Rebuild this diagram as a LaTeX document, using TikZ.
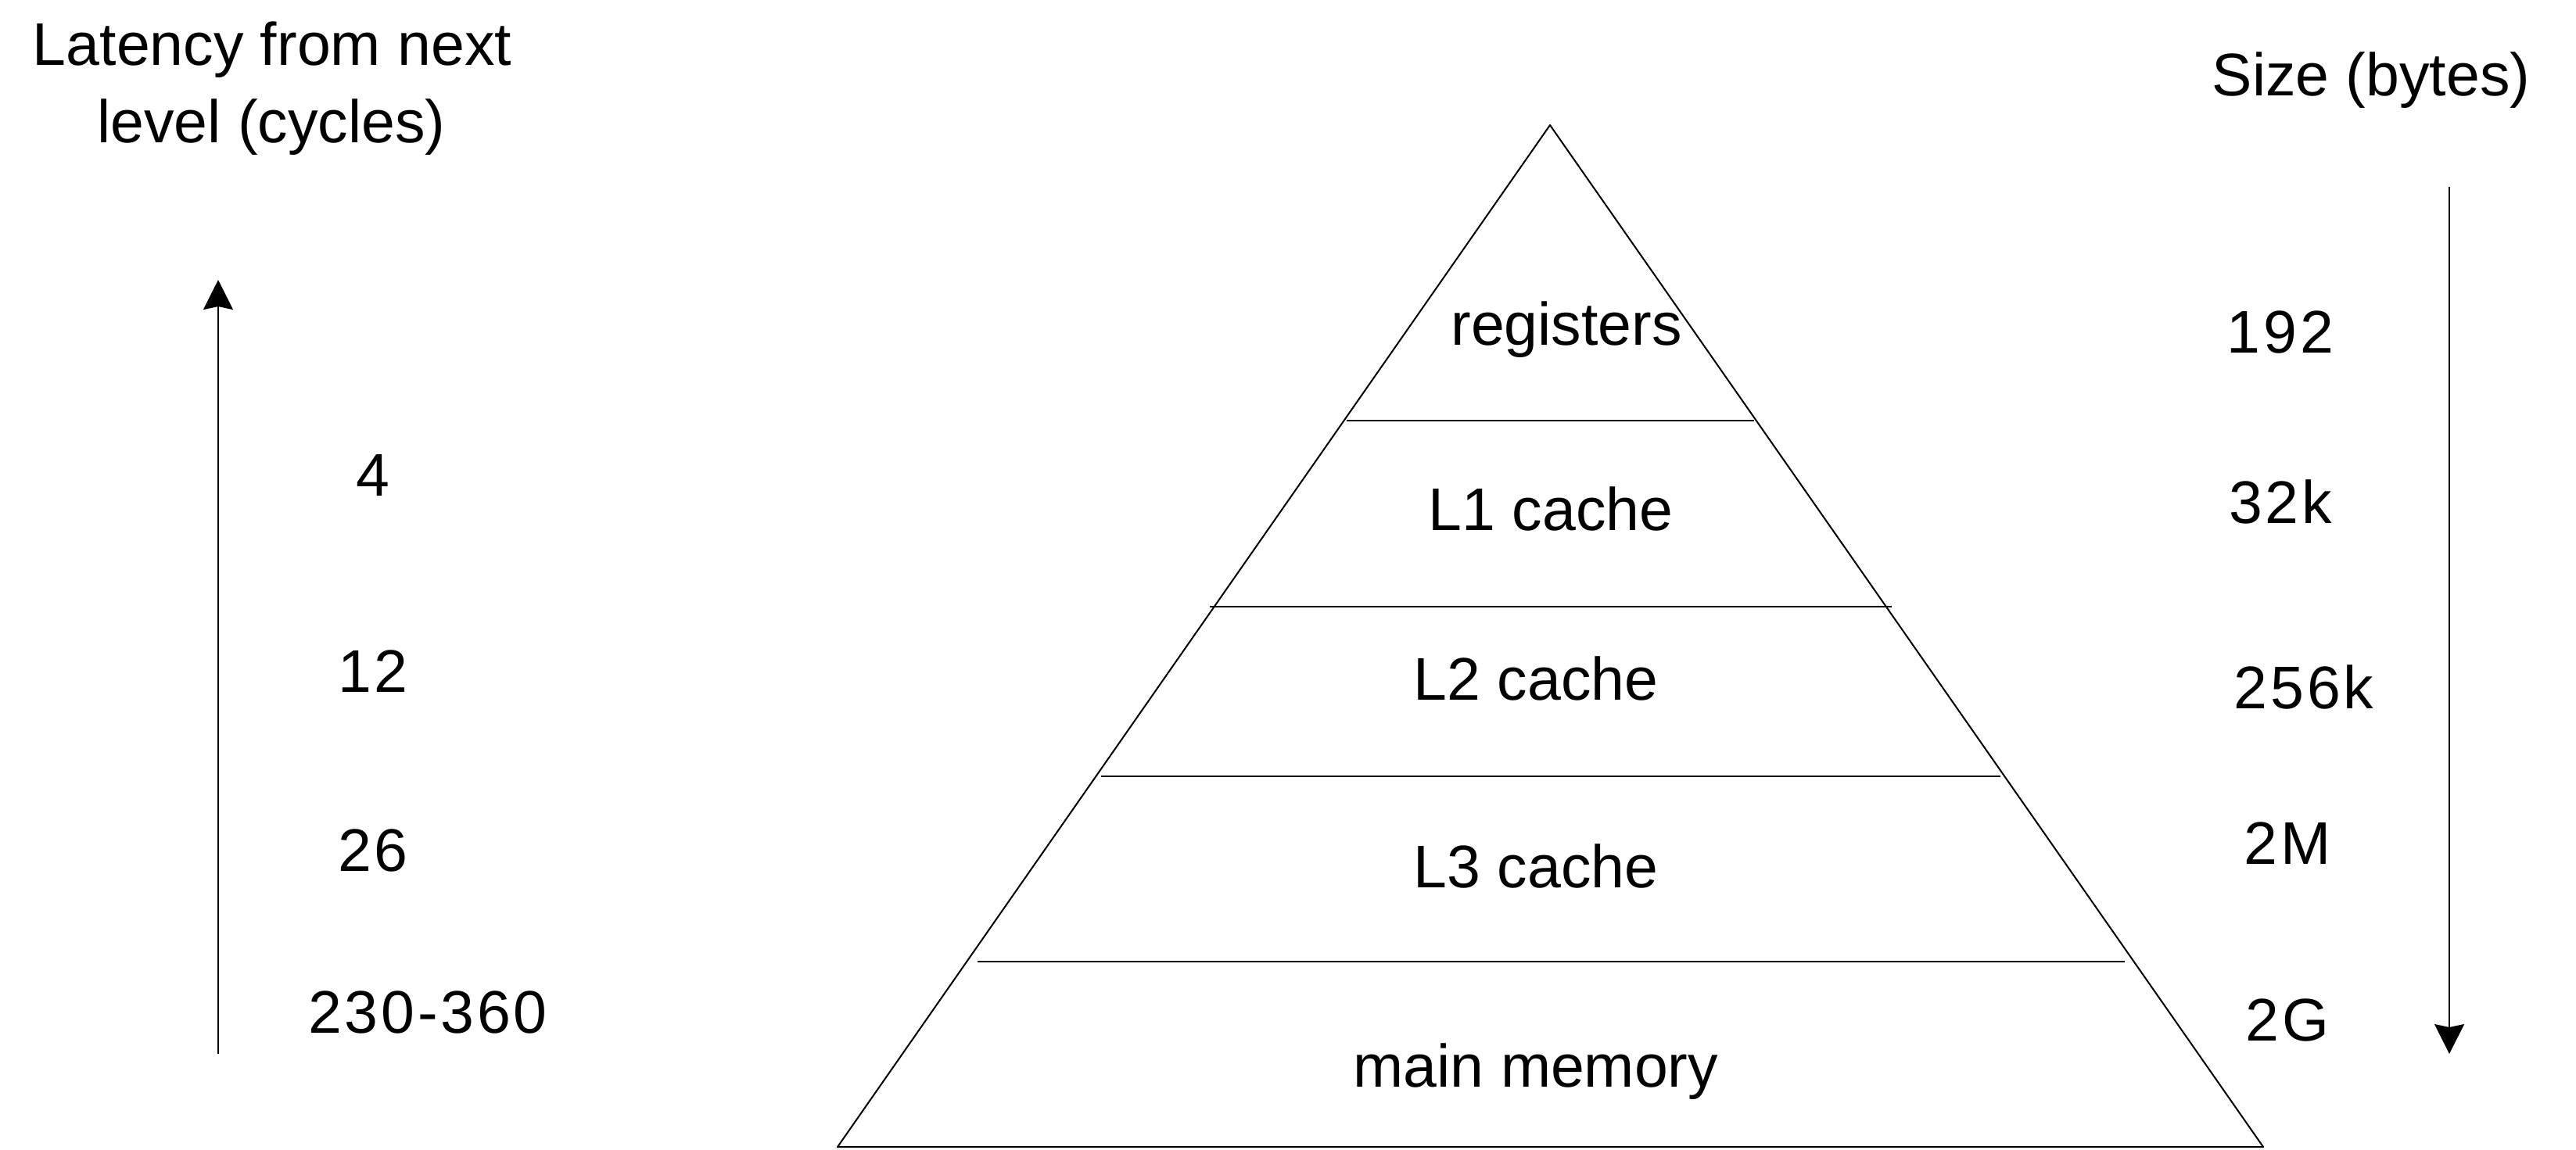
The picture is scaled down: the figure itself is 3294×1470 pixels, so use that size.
\documentclass[tikz,border=0pt]{standalone}
\usepackage{fontspec}
\setmainfont{Liberation Sans}
\newfontfamily\numfont[LetterSpace=5]{Liberation Sans}
\usetikzlibrary{arrows.meta}
\begin{document}
\begin{tikzpicture}[x=0.25pt,y=-0.25pt,
  lbl/.style={inner sep=0pt, anchor=base, font=\fontsize{19.25pt}{24.75pt}\selectfont},
  num/.style={lbl, font=\fontsize{19.25pt}{24.75pt}\numfont},
  edgeline/.style={line width=0.5pt, line join=round},
  tier/.style={line width=0.5pt},
  axis/.style={line width=0.5pt, -{Stealth[length=9.5pt,width=9.5pt,inset=1pt]}}]
\useasboundingbox (0,0) rectangle (3294,1470);
% pyramid
\coordinate (apex) at (1982,160);
\coordinate (bl) at (1071,1467);
\coordinate (br) at (2894,1467);
\draw[edgeline] (apex) -- (bl) -- (br) -- cycle;
\coordinate (t1l) at (1722,538);  \coordinate (t1r) at (2243,538);
\coordinate (t2l) at (1547,776);  \coordinate (t2r) at (2419,776);
\coordinate (t3l) at (1408,993);  \coordinate (t3r) at (2558,993);
\coordinate (t4l) at (1250,1230); \coordinate (t4r) at (2717,1230);
\draw[tier] (t1l) -- (t1r);
\draw[tier] (t2l) -- (t2r);
\draw[tier] (t3l) -- (t3r);
\draw[tier] (t4l) -- (t4r);
% level names
\node[lbl] (reg) at (2003,441) {registers};
\node[lbl] (l1) at (1983,678) {L1 cache};
\node[lbl] (l2) at (1964,895) {L2 cache};
\node[lbl] (l3) at (1964,1135) {L3 cache};
\node[lbl] (mem) at (1964,1390) {main memory};
% left header and axis
\node[lbl] (lat1) at (348,83) {Latency from next};
\node[lbl] (lat2) at (347,182) {level (cycles)};
\coordinate (la0) at (279,1348);
\coordinate (la1) at (279,358);
\draw[axis] (la0) -- (la1);
\node[num] (c4) at (477,634) {4};
\node[num] (c12) at (477,885) {12};
\node[num] (c26) at (477,1114) {26};
\node[num] (cmem) at (547,1321) {230-360};
% right header and axis
\node[lbl] (size) at (3032,122) {Size (bytes)};
\coordinate (ra0) at (3132,239);
\coordinate (ra1) at (3132,1348);
\draw[axis] (ra0) -- (ra1);
\node[num] (s192) at (2916,451) {192};
\node[num] (s32k) at (2916,669) {32k};
\node[num] (s256k) at (2946,906) {256k};
\node[num] (s2m) at (2925,1105) {2M};
\node[num] (s2g) at (2925,1331) {2G};
\end{tikzpicture}
\end{document}
